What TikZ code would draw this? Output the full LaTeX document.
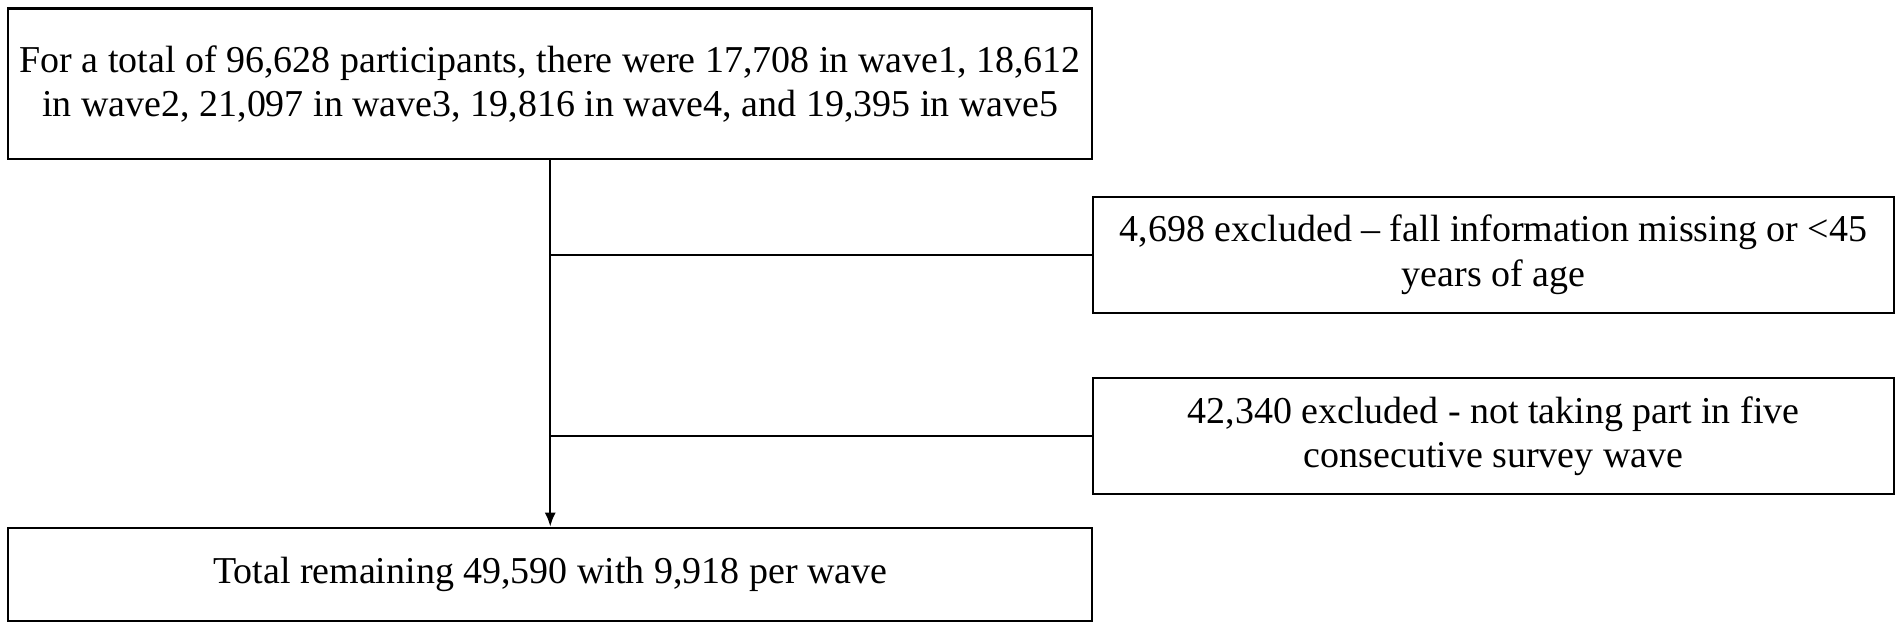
\documentclass[tikz,border=0pt]{standalone}
\usepackage{fontspec}
\setmainfont{Liberation Serif}
\usetikzlibrary{arrows.meta}

\begin{document}
\begin{tikzpicture}[x=0.01cm,y=-0.01cm,line width=0.6pt]

\tikzstyle{flow}=[rectangle, draw, line width=0.6pt, align=center, inner sep=0pt, font=\fontsize{10.8}{12.6}\selectfont]
\tikzstyle{wide}=[flow, minimum width=10.835cm]
\tikzstyle{excl}=[flow, minimum width=8.01cm, minimum height=1.16cm]

	\useasboundingbox (0,0) rectangle (1902,630);

	\node[wide, minimum height=1.505cm] (start) at (550.25,83.75)
		{For a total of 96,628 participants, there were 17,708 in wave1, 18,612\\
		 in wave2, 21,097 in wave3, 19,816 in wave4, and 19,395 in wave5};
	\node[excl] (ex1) at (1493.5,254.75)
		{4,698 excluded -- fall information missing or <45\\ years of age};
	\node[excl] (ex2) at (1493.5,436.25)
		{42,340 excluded - not taking part in five\\ consecutive survey wave};
	\node[wide, minimum height=0.933cm] (final) at (550.25,574.4)
		{Total remaining 49,590 with 9,918 per wave};

	% branch points on the main line
	\coordinate (b1) at (start.south |- ex1.west);
	\coordinate (b2) at (start.south |- ex2.west);

	\draw[-{Latex[length=1.4mm,width=1.1mm]}] (start.south) -- (final.north);
	\draw (b1) -- (ex1.west);
	\draw (b2) -- (ex2.west);
\end{tikzpicture}
\end{document}
